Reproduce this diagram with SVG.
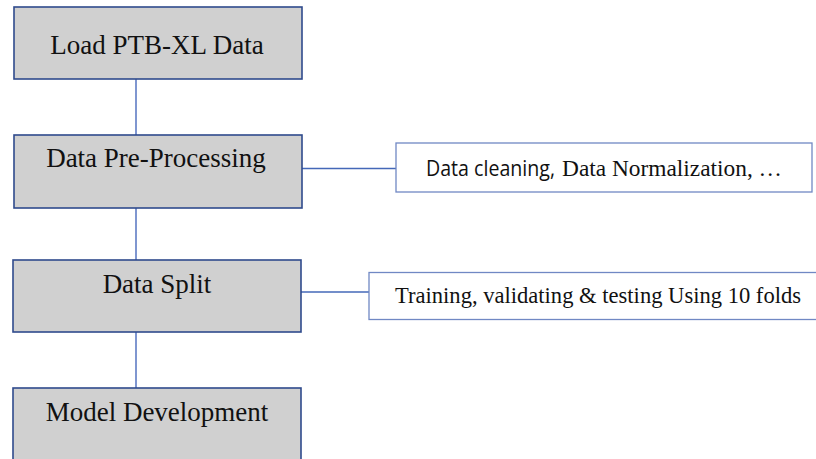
<svg xmlns="http://www.w3.org/2000/svg" width="816" height="459" viewBox="0 0 816 459">
<style>
.box{fill:#d0d0d0;stroke:#2f4a8c;stroke-width:1.6}
.note{fill:#ffffff;stroke:#7088c4;stroke-width:1.3}
.t{font-family:"Liberation Serif","Times New Roman",serif;font-size:27px;fill:#111;text-anchor:middle}
.n{font-family:"Liberation Serif","Times New Roman",serif;font-size:22.5px;fill:#111}
.s{font-family:"Open Sans","Noto Sans","Liberation Sans",sans-serif;font-size:21px}
.v{stroke:#7f96d0;stroke-width:2;fill:none}
.h{stroke:#4468b8;stroke-width:1.5;fill:none}
</style>
<rect width="816" height="459" fill="#ffffff"/>
<g id="connectors">
<line class="v" x1="136" y1="79" x2="136" y2="135"/>
<line class="v" x1="136" y1="208" x2="136" y2="260"/>
<line class="v" x1="136" y1="332" x2="136" y2="388"/>
<line class="h" x1="302" y1="168.5" x2="396" y2="168.5"/>
<line class="h" x1="301" y1="292" x2="369" y2="292"/>
</g>
<g id="load">
<rect class="box" x="14" y="7" width="288" height="72"/>
<text class="t" x="157" y="54">Load PTB-XL Data</text>
</g>
<g id="preprocessing">
<rect class="box" x="14" y="135" width="288" height="73"/>
<text class="t" x="156" y="167">Data Pre-Processing</text>
</g>
<g id="split">
<rect class="box" x="13" y="260" width="288" height="72"/>
<text class="t" x="157" y="293">Data Split</text>
</g>
<g id="model">
<rect class="box" x="13" y="388" width="288" height="80"/>
<text class="t" x="157" y="421">Model Development</text>
</g>
<g id="cleaning">
<rect class="note" x="396" y="143" width="416" height="49"/>
<text class="n" y="176"><tspan class="s" x="426" textLength="129" lengthAdjust="spacingAndGlyphs">Data cleaning,</tspan><tspan x="562" textLength="220" lengthAdjust="spacingAndGlyphs">Data Normalization, …</tspan></text>
</g>
<g id="folds">
<rect class="note" x="369" y="272.5" width="460" height="47"/>
<text class="n" x="395" y="303" textLength="406" lengthAdjust="spacingAndGlyphs">Training, validating &amp; testing Using 10 folds</text>
</g>
</svg>
